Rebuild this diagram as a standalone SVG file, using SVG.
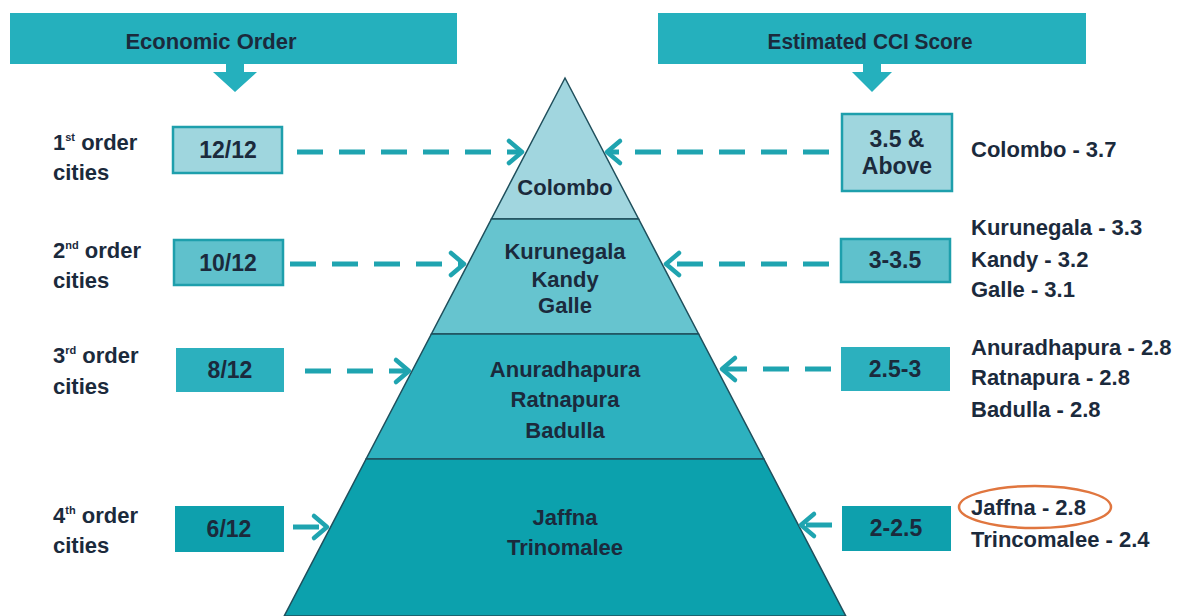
<svg xmlns="http://www.w3.org/2000/svg" width="1189" height="616" viewBox="0 0 1189 616">
<style>
text{font-family:"Liberation Sans",Arial,sans-serif;font-weight:bold;fill:#1b2a3c}
.hdr{fill:#25b0bd}
.lbl{font-size:22px}
.box{font-size:23px;text-anchor:middle}
.py{font-size:22px;text-anchor:middle}
.rt{font-size:22px}
.sup{font-size:11px}
.b1{fill:#9fd6de;stroke:#1e9fac;stroke-width:2.5}
.b2{fill:#5fc1cc;stroke:#1e9fac;stroke-width:2.5}
.b3{fill:#2cb0be}
.b4{fill:#0ea0ad}
.dash{stroke:#1fa4b0;stroke-width:5;fill:none;stroke-dasharray:26 16}
.head{stroke:#1fa4b0;stroke-width:4.5;fill:none;stroke-linecap:round;stroke-linejoin:round}
.tier{stroke:#1f4f5c;stroke-width:1.5}
</style>
<rect width="1189" height="616" fill="#ffffff"/>
<g id="header-left">
<rect class="hdr" x="10" y="13" width="447" height="51"/>
<polygon class="hdr" points="226,64 244,64 244,72 257,72 235,92 213,72 226,72"/>
<text x="211" y="49" font-size="22" text-anchor="middle">Economic Order</text>
</g>
<g id="header-right">
<rect class="hdr" x="658" y="13" width="428" height="51"/>
<polygon class="hdr" points="863,64 881,64 881,72 892,72 872,92 852,72 863,72"/>
<text x="870" y="49" font-size="22" text-anchor="middle" textLength="205" lengthAdjust="spacingAndGlyphs">Estimated CCI Score</text>
</g>
<g id="pyramid">
<polygon class="tier" fill="#a1d6df" points="565,78 638.6,219 491.4,219"/>
<polygon class="tier" fill="#66c4cf" points="491.4,219 638.6,219 698.6,334 431.4,334"/>
<polygon class="tier" fill="#2db1bf" points="431.4,334 698.6,334 763.9,459 366.1,459"/>
<polygon class="tier" fill="#0ca1ad" points="366.1,459 763.9,459 845.8,616 284.2,616"/>
<text class="py" x="565" y="195">Colombo</text>
<text class="py" x="565" y="259">Kurunegala</text>
<text class="py" x="565" y="287">Kandy</text>
<text class="py" x="565" y="313">Galle</text>
<text class="py" x="565" y="377">Anuradhapura</text>
<text class="py" x="565" y="407">Ratnapura</text>
<text class="py" x="565" y="438">Badulla</text>
<text class="py" x="565" y="525">Jaffna</text>
<text class="py" x="565" y="555">Trinomalee</text>
</g>
<g id="left-labels">
<text class="lbl" x="53" y="150">1<tspan class="sup" dy="-9">st</tspan><tspan dy="9"> order</tspan></text>
<text class="lbl" x="53" y="180">cities</text>
<text class="lbl" x="53" y="258">2<tspan class="sup" dy="-9">nd</tspan><tspan dy="9"> order</tspan></text>
<text class="lbl" x="53" y="288">cities</text>
<text class="lbl" x="53" y="363">3<tspan class="sup" dy="-9">rd</tspan><tspan dy="9"> order</tspan></text>
<text class="lbl" x="53" y="394">cities</text>
<text class="lbl" x="53" y="523">4<tspan class="sup" dy="-9">th</tspan><tspan dy="9"> order</tspan></text>
<text class="lbl" x="53" y="553">cities</text>
</g>
<g id="left-boxes">
<rect class="b1" x="173" y="127" width="109" height="46"/>
<text class="box" x="228" y="158">12/12</text>
<rect class="b2" x="174" y="240" width="109" height="45"/>
<text class="box" x="228" y="271">10/12</text>
<rect class="b3" x="176" y="348" width="108" height="44"/>
<text class="box" x="230" y="378">8/12</text>
<rect class="b4" x="175" y="506" width="109" height="46"/>
<text class="box" x="229" y="537">6/12</text>
</g>
<g id="right-boxes">
<rect class="b1" x="842" y="114" width="110" height="77"/>
<text class="box" x="897" y="147">3.5 &amp;</text>
<text class="box" x="897" y="174">Above</text>
<rect class="b2" x="841" y="239" width="109" height="43"/>
<text class="box" x="895" y="268">3-3.5</text>
<rect class="b3" x="841" y="347" width="109" height="44"/>
<text class="box" x="895" y="377">2.5-3</text>
<rect class="b4" x="842" y="506" width="109" height="45"/>
<text class="box" x="896" y="536">2-2.5</text>
</g>
<g id="right-texts">
<text class="rt" x="971" y="157">Colombo - 3.7</text>
<text class="rt" x="971" y="235">Kurunegala - 3.3</text>
<text class="rt" x="971" y="267">Kandy - 3.2</text>
<text class="rt" x="971" y="297">Galle - 3.1</text>
<text class="rt" x="971" y="355">Anuradhapura - 2.8</text>
<text class="rt" x="971" y="385">Ratnapura - 2.8</text>
<text class="rt" x="971" y="417">Badulla - 2.8</text>
<text class="rt" x="971" y="515">Jaffna - 2.8</text>
<text class="rt" x="971" y="547">Trincomalee - 2.4</text>
<ellipse cx="1035" cy="507" rx="76" ry="21" fill="none" stroke="#e0763f" stroke-width="2.5"/>
</g>
<g id="connectors">
<line class="dash" x1="297" y1="152" x2="519" y2="152"/>
<path class="head" d="M509,141 L522,152 L509,163"/>
<line class="dash" x1="290" y1="264" x2="461" y2="264"/>
<path class="head" d="M451,253 L464,264 L451,275"/>
<line class="dash" x1="305" y1="371" x2="406" y2="371"/>
<path class="head" d="M396,360 L409,371 L396,382"/>
<line class="dash" x1="293" y1="527" x2="324" y2="527"/>
<path class="head" d="M314,516 L327,527 L314,538"/>
<line class="dash" x1="829" y1="152" x2="610" y2="152"/>
<path class="head" d="M620,141 L607,152 L620,163"/>
<line class="dash" x1="829" y1="264" x2="669" y2="264"/>
<path class="head" d="M679,253 L666,264 L679,275"/>
<line class="dash" x1="831" y1="369" x2="725" y2="369"/>
<path class="head" d="M735,358 L722,369 L735,380"/>
<line class="dash" x1="832" y1="525" x2="804" y2="525"/>
<path class="head" d="M814,514 L801,525 L814,536"/>
</g>
</svg>
